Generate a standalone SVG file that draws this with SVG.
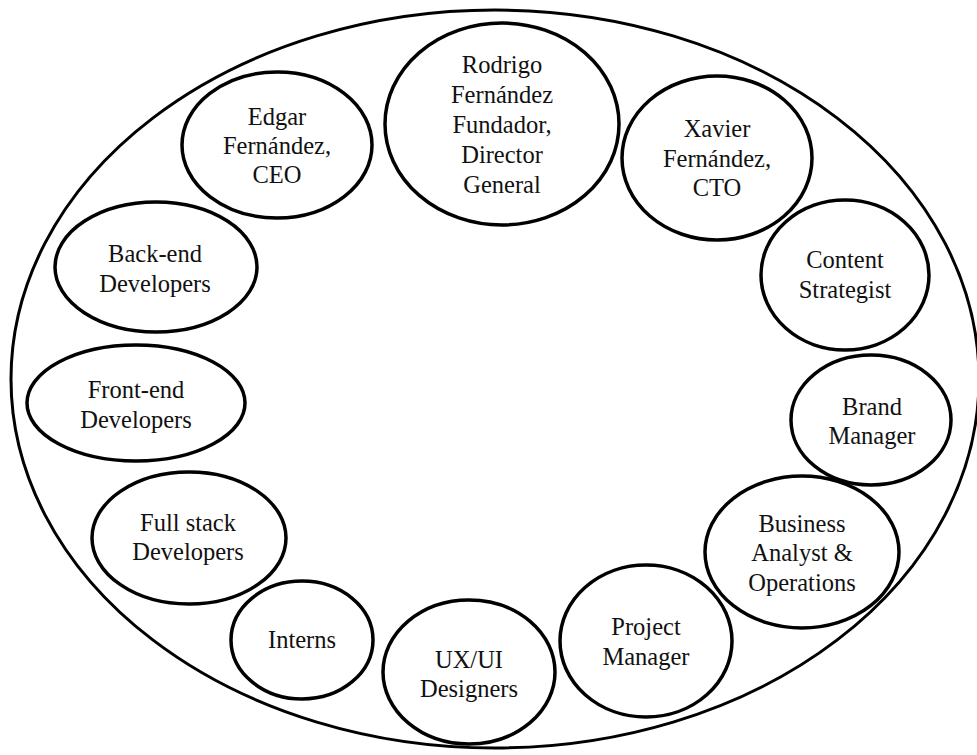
<svg xmlns="http://www.w3.org/2000/svg" width="977" height="755" viewBox="0 0 977 755">
  <style>
    .frame { fill: none; stroke: #000; stroke-width: 3; }
    .node ellipse { fill: #fff; stroke: #000; stroke-width: 3.5; }
    .node text { font-size: 24.5px; fill: #111; text-anchor: middle; }
  </style>
  <rect width="977" height="755" fill="#fff"/>
  <!-- enclosing organisation boundary -->
  <ellipse class="frame" cx="495" cy="379" rx="484" ry="369"/>
  <g id="connectors"></g>

  <g font-family="'Liberation Serif', 'Times New Roman', Tinos, 'DejaVu Serif', serif">
  <g id="rodrigo" class="node">
    <ellipse cx="502" cy="124" rx="117" ry="101"/>
    <text x="502" y="73">Rodrigo</text>
    <text x="502" y="103">Fernández</text>
    <text x="502" y="133">Fundador,</text>
    <text x="502" y="163">Director</text>
    <text x="502" y="193">General</text>
  </g>
  <g id="edgar" class="node">
    <ellipse cx="277" cy="145" rx="95" ry="73"/>
    <text x="277" y="125">Edgar</text>
    <text x="277" y="154">Fernández,</text>
    <text x="277" y="183">CEO</text>
  </g>
  <g id="xavier" class="node">
    <ellipse cx="717" cy="158" rx="95" ry="82"/>
    <text x="717" y="137">Xavier</text>
    <text x="717" y="167">Fernández,</text>
    <text x="717" y="196">CTO</text>
  </g>
  <g id="backend" class="node">
    <ellipse cx="156" cy="267" rx="101" ry="65"/>
    <text x="155" y="262">Back-end</text>
    <text x="155" y="292">Developers</text>
  </g>
  <g id="content" class="node">
    <ellipse cx="845" cy="275" rx="84" ry="75"/>
    <text x="845" y="268">Content</text>
    <text x="845" y="298">Strategist</text>
  </g>
  <g id="frontend" class="node">
    <ellipse cx="136" cy="403" rx="109" ry="58"/>
    <text x="136" y="398">Front-end</text>
    <text x="136" y="428">Developers</text>
  </g>
  <g id="brand" class="node">
    <ellipse cx="871" cy="420" rx="80" ry="65"/>
    <text x="872" y="415">Brand</text>
    <text x="872" y="444">Manager</text>
  </g>
  <g id="fullstack" class="node">
    <ellipse cx="189" cy="538" rx="97" ry="66"/>
    <text x="188" y="531">Full stack</text>
    <text x="188" y="560">Developers</text>
  </g>
  <g id="business" class="node">
    <ellipse cx="802" cy="552" rx="97" ry="76"/>
    <text x="802" y="532">Business</text>
    <text x="802" y="561">Analyst &amp;</text>
    <text x="802" y="591">Operations</text>
  </g>
  <g id="interns" class="node">
    <ellipse cx="302" cy="640" rx="71" ry="59"/>
    <text x="302" y="648">Interns</text>
  </g>
  <g id="uxui" class="node">
    <ellipse cx="469" cy="672" rx="86" ry="72"/>
    <text x="469" y="668">UX/UI</text>
    <text x="469" y="697">Designers</text>
  </g>
  <g id="project" class="node">
    <ellipse cx="646" cy="641" rx="86" ry="76"/>
    <text x="646" y="635">Project</text>
    <text x="646" y="665">Manager</text>
  </g>
  </g>
</svg>
